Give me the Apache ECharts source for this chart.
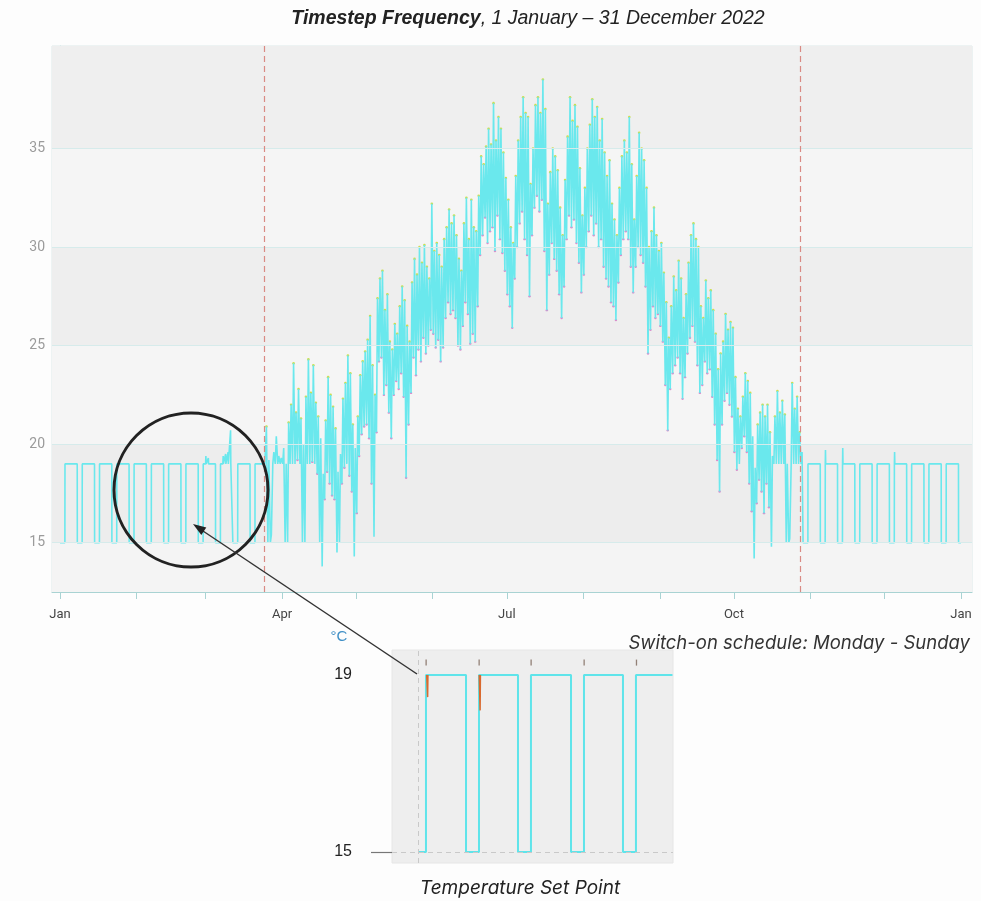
<!DOCTYPE html>
<html><head><meta charset="utf-8">
<script src="https://cdn.jsdelivr.net/npm/echarts@6/dist/echarts.min.js"></script>
<style>html,body{margin:0;padding:0;background:#fdfdfd}#c{width:981px;height:901px}</style>
</head><body><div id="c"></div>
<script>
// ---------------- data ----------------
// Set point schedule (1 Jan 2022 is a Saturday): Sat, Sun, Mon..Fri
const weeklySetPoint = [15, 15, 19, 19, 19, 19, 19];
// free-running period: first day index (Jan 1 = 0) -> 25 Mar 2022
const freeRunFirstDay = 83;
// daily maximum temperature (°C), days 83 .. 300
const dailyHigh = [
  20.9,
  19.2, 15.4, 19.6, 20.4, 19.4, 19.3, 19.8,
  19.0, 21.1, 22.0, 24.1, 21.6, 22.8, 21.3,
  20.0, 22.4, 24.3, 22.6, 24.0, 22.1, 21.4,
  20.3, 18.5, 21.2, 23.4, 22.5, 21.9, 20.8,
  18.6, 19.5, 22.3, 23.1, 24.5, 23.6, 21.0,
  19.8, 21.4, 23.5, 24.2, 24.7, 25.3, 26.5,
  24.0, 22.5, 27.4, 28.4, 28.8, 26.8, 27.6,
  25.2, 24.8, 26.1, 25.6, 27.0, 28.0, 27.3,
  26.0, 25.2, 28.2, 29.4, 28.6, 30.0, 29.2,
  30.1, 29.0, 28.4, 32.2, 29.8, 30.2, 29.6,
  29.0, 30.4, 31.0, 31.9, 31.2, 31.6, 30.6,
  29.4, 28.8, 31.2, 32.5, 30.4, 32.4, 31.0,
  30.8, 32.6, 34.6, 34.2, 35.1, 36.0, 35.2,
  37.3, 35.4, 36.6, 36.0, 34.8, 33.5, 32.4,
  31.0, 30.2, 33.6, 35.4, 36.6, 37.6, 36.8,
  36.6, 33.2, 35.0, 37.2, 37.6, 36.8, 38.5,
  37.0, 32.2, 33.8, 35.0, 34.6, 33.9, 32.0,
  30.6, 33.4, 35.6, 37.6, 36.4, 37.2, 36.1,
  34.0, 31.6, 33.0, 35.0, 36.2, 37.5, 36.6,
  37.1, 35.4, 36.5, 34.8, 33.6, 34.4, 32.2,
  31.4, 30.6, 33.0, 34.6, 35.4, 34.8, 36.6,
  34.2, 31.4, 33.6, 35.8, 35.0, 34.4, 33.0,
  30.0, 30.8, 32.0, 30.6, 29.8, 30.2, 28.7,
  27.2, 25.4, 27.0, 28.5, 27.8, 29.3, 28.4,
  26.4, 27.6, 29.2, 30.6, 31.2, 30.4, 30.0,
  27.0, 26.4, 28.3, 27.4, 27.8, 26.8, 25.6,
  23.8, 24.6, 25.2, 26.6, 25.8, 26.2, 25.9,
  23.4, 21.8, 21.4, 22.4, 23.6, 23.2, 22.6,
  20.4, 18.8, 21.0, 21.6, 22.0, 21.4, 22.0,
  20.6, 19.4, 21.4, 22.7, 21.6, 22.2, 21.5,
  19.0, 15.2, 23.1, 21.8, 22.4, 20.6, 19.6
];
// daily minimum temperature (°C), days 83 .. 300
const dailyLow = [
  19.0,
  15.0, 15.0, 19.0, 19.0, 19.0, 19.0, 19.0,
  15.0, 15.0, 19.0, 19.0, 19.0, 19.2, 19.0,
  15.0, 15.0, 19.0, 19.0, 19.1, 19.0, 18.5,
  15.0, 13.8, 17.2, 18.6, 18.0, 17.4, 17.2,
  14.5, 15.0, 18.0, 18.8, 19.0, 18.4, 17.6,
  14.3, 16.5, 19.4, 20.5, 20.9, 21.0, 20.3,
  18.0, 15.3, 20.6, 24.2, 24.4, 22.5, 23.0,
  21.6, 20.3, 22.5, 23.2, 22.8, 23.6, 22.4,
  18.3, 21.0, 22.6, 24.4, 23.5, 24.8, 24.2,
  25.4, 24.6, 25.0, 25.8, 25.6, 24.9, 25.3,
  24.2, 24.9, 26.4, 27.2, 26.6, 26.8, 26.4,
  25.0, 24.8, 26.0, 27.2, 26.6, 25.1, 25.6,
  25.2, 27.0, 29.6, 30.6, 31.5, 30.2, 30.8,
  31.0, 29.8, 31.6, 30.4, 29.7, 28.8, 27.6,
  27.0, 25.9, 28.4, 30.0, 31.2, 31.8, 30.4,
  29.6, 27.5, 30.6, 32.0, 32.6, 31.8, 32.4,
  29.8, 26.8, 28.6, 30.2, 29.4, 28.8, 27.6,
  26.4, 28.0, 30.4, 31.6, 31.0, 31.4, 30.2,
  29.2, 27.7, 28.6, 30.0, 30.8, 31.6, 30.6,
  31.2, 30.0, 30.4, 29.0, 28.4, 28.0, 27.2,
  27.0, 26.3, 28.2, 29.6, 30.4, 30.8, 30.4,
  29.0, 27.7, 29.0, 30.0, 29.6, 29.2, 28.0,
  24.6, 25.8, 27.0, 26.4, 26.6, 26.0, 25.2,
  23.0, 20.7, 22.8, 23.6, 24.0, 24.4, 23.6,
  22.3, 23.4, 24.6, 25.4, 26.0, 25.2, 24.0,
  22.6, 23.0, 24.2, 23.6, 23.8, 22.4, 21.0,
  19.2, 17.6, 21.0, 22.2, 22.6, 22.0, 21.4,
  19.6, 18.7, 19.0, 19.8, 20.4, 19.6, 18.0,
  16.6, 14.2, 17.0, 18.2, 17.6, 16.5, 18.0,
  16.8, 14.8, 19.0, 19.0, 19.0, 19.0, 19.0,
  15.0, 15.0, 19.0, 19.0, 19.0, 19.0, 19.0
];
// small overshoots above the set point while heating [day, °C]
const setPointPeaks = [[59, 19.4], [60, 19.3], [66, 19.4], [67, 19.5], [68, 19.6], [69, 20.7], [310, 19.7], [317, 19.8], [338, 19.6]];
// heating season boundaries (dashed lines), as day of year (fractional)
const seasonMarks = [82.67, 299.83];
const yLabelValues = [15, 20, 25, 30, 35];
const xLabelMonths = [0, 3, 6, 9, 12];
const xLabelTexts = ['Jan', 'Apr', 'Jul', 'Oct', 'Jan'];
// inset: five weeks of the set point (days from inset start)
const insetTimes = [3.47, 4.53, 9.87, 11.6, 16.8, 18.53, 23.87, 25.6, 30.8, 32.53, 37.4];
const insetSetPoint = [15, 19, 15, 19, 15, 19, 15, 19, 15, 19, 19];
const insetRiseMarks = [4.55, 11.62, 18.55, 25.62, 32.6];
const insetDips = [[4.75, 18.5], [11.75, 18.2]];

// ---------------- build ----------------
const DAY = 86400000, T0 = Date.UTC(2022, 0, 1);
const peakMap = Object.fromEntries(setPointPeaks);
const temp = [], peakDots = [], lowDots = [];
const LO_T = 5 / 24, HI_T = 15 / 24;
for (let d = 0; d < 365; d++) {
  const k = d - freeRunFirstDay;
  if (k >= 0 && k < dailyHigh.length) {
    const lo = dailyLow[k], hi = dailyHigh[k];
    if (hi > 20.4) peakDots.push([d + HI_T, hi]);
    if (lo > 16 && lo !== 19) lowDots.push([d + LO_T, lo]);
    temp.push([d + LO_T, lo], [d + HI_T, hi]);
  } else {
    const v = weeklySetPoint[d % 7];
    temp.push([d + 0.02, v]);
    if (peakMap[d]) temp.push([d + 0.1, peakMap[d]], [d + 0.2, v]);
    temp.push([d + 0.98, v]);
  }
}
const monthStart = m => (Date.UTC(2022, m, 1) - T0) / DAY;
const monthTicks = [];
for (let m = 0; m <= 12; m++) monthTicks.push(monthStart(m));
const xLabelVals = xLabelMonths.map(monthStart);
const bands = [[12.5, 15, '#f4f4f4'], [15, 20, '#ededed'], [20, 25, '#f5f5f5'], [25, 30, '#eeeeee'], [30, 35, '#f5f5f5'], [35, 40.2, '#efefef']];

const chart = echarts.init(document.getElementById('c'), null, { renderer: 'canvas' });
const insetSeries = [{
  type: 'line', xAxisIndex: 1, yAxisIndex: 1, step: 'end', symbol: 'none', z: 4,
  data: insetTimes.map((t, i) => [t, insetSetPoint[i]]),
  lineStyle: { color: '#5fe4ea', width: 2 },
  markLine: {
    silent: true, symbol: 'none', label: { show: false },
    lineStyle: { color: '#c9c9c9', type: [5, 4], width: 1 },
    data: [{ xAxis: insetTimes[0] }, { yAxis: 15 }]
  }
}, {
  type: 'scatter', xAxisIndex: 1, yAxisIndex: 1, symbol: 'rect', symbolSize: [1.3, 6], z: 5,
  itemStyle: { color: '#7a6458' },
  data: insetRiseMarks.map(t => [t, 19.28])
}];
insetDips.forEach(([t, v]) => insetSeries.push({
  type: 'line', xAxisIndex: 1, yAxisIndex: 1, symbol: 'none', z: 5,
  lineStyle: { color: '#d9692e', width: 1.5 },
  data: [[t - 0.12, 19], [t, v], [t + 0.04, 19]]
}));

chart.setOption({
  animation: false,
  backgroundColor: '#fdfdfd',
  grid: [
    { left: 52, right: 9, top: 46, bottom: 309, show: true, borderColor: '#dce8e8', borderWidth: 1, backgroundColor: 'transparent' },
    { left: 392, top: 650, width: 281, height: 213, show: true, backgroundColor: '#eeeeee', borderColor: '#e6e6e6', borderWidth: 1 }
  ],
  xAxis: [{
    type: 'value', gridIndex: 0,
    min: -3.24, max: 365 + 4.46,
    axisLine: { lineStyle: { color: '#a9d3d3', width: 1.2 } },
    axisTick: { show: true, customValues: monthTicks, length: 7, lineStyle: { color: '#a9d3d3' } },
    axisLabel: {
      customValues: xLabelVals, color: '#444', fontSize: 13, margin: 16, fontFamily: 'Roboto',
      formatter: v => { const i = xLabelVals.indexOf(v); return i >= 0 ? xLabelTexts[i] : ''; }
    },
    splitLine: { show: false }
  }, {
    type: 'value', gridIndex: 1, min: 0, max: 37.47, show: false
  }],
  yAxis: [{
    type: 'value', gridIndex: 0, min: 12.5, max: 40.2,
    axisLine: { show: true, lineStyle: { color: '#c6e0e0' } },
    axisTick: { show: true, customValues: yLabelValues, length: 4, lineStyle: { color: '#aaaaaa' } },
    axisLabel: { customValues: yLabelValues, color: '#9b9b9b', fontSize: 14, margin: 7, fontFamily: 'Roboto' },
    splitLine: { show: false }, splitArea: { show: false }
  }, {
    type: 'value', gridIndex: 1, min: 14.75, max: 19.565,
    axisLine: { show: false },
    axisTick: { show: true, customValues: [15], length: 21, lineStyle: { color: '#777', width: 1.2 } },
    axisLabel: { customValues: [15, 19], color: '#222', fontSize: 16, margin: 40, fontFamily: 'Liberation Sans' },
    splitLine: { show: false }
  }],
  series: [{
    type: 'line', data: [], z: 0, silent: true,
    markArea: { silent: true, data: bands.map(b => [{ yAxis: b[0], itemStyle: { color: b[2] } }, { yAxis: b[1] }]) },
    markLine: {
      silent: true, symbol: 'none', label: { show: false },
      lineStyle: { color: '#d6ebeb', type: 'solid', width: 1 },
      data: yLabelValues.map(v => ({ yAxis: v }))
    }
  }, {
    type: 'scatter', data: peakDots, symbolSize: 2.6, z: 2, itemStyle: { color: '#c9dc3e', opacity: 0.9 }
  }, {
    type: 'scatter', data: lowDots, symbolSize: 2.4, z: 2, itemStyle: { color: '#d47bc6', opacity: 0.85 }
  }, {
    name: 'Temperature', type: 'line', data: temp, symbol: 'none', z: 3,
    lineStyle: { color: '#6ae8ed', width: 1.6 },
    markLine: {
      silent: true, symbol: 'none', label: { show: false },
      lineStyle: { color: '#d98a84', type: [6, 4], width: 1.2 },
      data: seasonMarks.map(v => ({ xAxis: v }))
    }
  }, ...insetSeries],
  graphic: [
    { type: 'text', x: 528, y: 19, style: {
        text: '{b|Timestep Frequency}{n|, 1 January – 31 December 2022}',
        align: 'center', verticalAlign: 'middle',
        rich: {
          b: { fontStyle: 'italic', fontWeight: 'bold', fontSize: 19.5, fill: '#222', fontFamily: 'Liberation Sans' },
          n: { fontStyle: 'italic', fontSize: 19.5, fill: '#222', fontFamily: 'Liberation Sans' }
        } } },
    { type: 'text', x: 970, y: 643, style: { text: 'Switch-on schedule: Monday - Sunday', align: 'right', verticalAlign: 'middle', fontStyle: 'italic', fontSize: 18.5, fill: '#333', fontFamily: 'Inter' } },
    { type: 'text', x: 520, y: 888, style: { text: 'Temperature Set Point', align: 'center', verticalAlign: 'middle', fontStyle: 'italic', fontSize: 19, fill: '#222', fontFamily: 'Inter' } },
    { type: 'text', x: 339, y: 637, style: { text: '°C', align: 'center', verticalAlign: 'middle', fontSize: 15, fill: '#3f8fc6', fontFamily: 'Liberation Sans' } },
    { type: 'circle', shape: { cx: 191, cy: 490, r: 77 }, style: { fill: 'none', stroke: '#222', lineWidth: 3 }, z: 100 },
    { type: 'line', shape: { x1: 417, y1: 674, x2: 200, y2: 529 }, style: { stroke: '#333', lineWidth: 1.5 }, z: 100 },
    { type: 'polygon', shape: { points: [[193, 524], [201.3, 534.9], [206.3, 527.5]] }, style: { fill: '#222' }, z: 100 }
  ]
});
</script>
</body></html>
